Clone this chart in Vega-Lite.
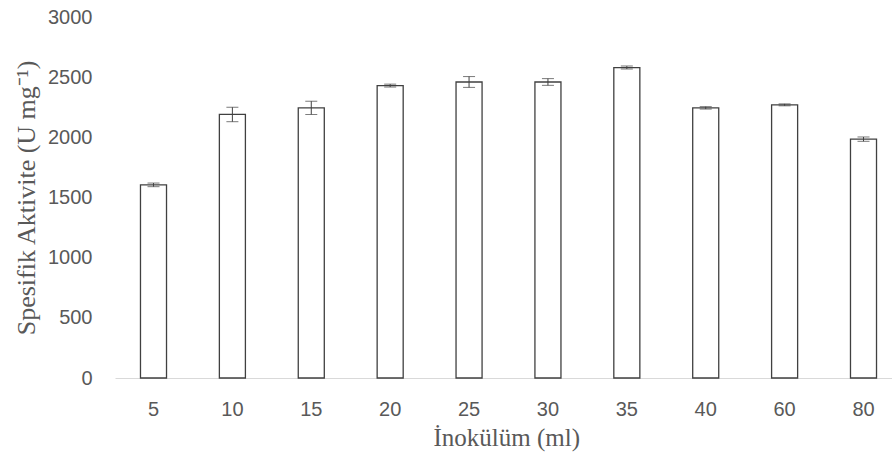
{
  "$schema": "https://vega.github.io/schema/vega-lite/v6.json",
  "width": 787,
  "height": 361,
  "autosize": "none",
  "padding": {"left": 115, "top": 17, "right": 0, "bottom": 89},
  "background": "white",
  "config": {"view": {"stroke": null}},
  "data": {"values": [
    {"ml": "5", "value": 1605, "lo": 1590, "hi": 1620},
    {"ml": "10", "value": 2190, "lo": 2130, "hi": 2250},
    {"ml": "15", "value": 2245, "lo": 2190, "hi": 2300},
    {"ml": "20", "value": 2430, "lo": 2418, "hi": 2442},
    {"ml": "25", "value": 2460, "lo": 2415, "hi": 2505},
    {"ml": "30", "value": 2460, "lo": 2432, "hi": 2488},
    {"ml": "35", "value": 2580, "lo": 2568, "hi": 2592},
    {"ml": "40", "value": 2245, "lo": 2235, "hi": 2255},
    {"ml": "60", "value": 2270, "lo": 2262, "hi": 2278},
    {"ml": "80", "value": 1985, "lo": 1967, "hi": 2003}
  ]},
  "encoding": {
    "x": {
      "field": "ml", "type": "ordinal", "sort": null,
      "scale": {"paddingInner": 0.67, "paddingOuter": 0.323},
      "axis": {
        "title": "İnokülüm (ml)", "titleFont": "Liberation Serif", "titleFontSize": 25,
        "titleFontWeight": "normal", "titleColor": "#595959", "titlePadding": 6,
        "titleAnchor": "start", "titleX": 318, "titleAlign": "left",
        "labelAngle": 0, "labelFont": "Liberation Sans", "labelFontSize": 20,
        "labelColor": "#595959", "labelPadding": 21, "ticks": false,
        "domainColor": "#d9d9d9", "domainWidth": 1
      }
    }
  },
  "layer": [
    {
      "mark": {"type": "bar", "fill": "white", "stroke": "#404040", "strokeWidth": 1.3},
      "encoding": {
        "y": {
          "field": "value", "type": "quantitative",
          "scale": {"domain": [0, 3000], "nice": false},
          "axis": {
            "title": "Spesifik Aktivite (U mg⁻¹)", "titleFont": "Liberation Serif", "titleFontSize": 26,
            "titleFontWeight": "normal", "titleColor": "#595959", "titlePadding": 8,
            "values": [0, 500, 1000, 1500, 2000, 2500, 3000], "format": "d",
            "labelFont": "Liberation Sans", "labelFontSize": 20, "labelColor": "#595959",
            "labelPadding": 23, "ticks": false, "domain": false, "grid": false
          }
        }
      }
    },
    {
      "mark": {"type": "rule", "color": "#404040", "strokeWidth": 1},
      "encoding": {"y": {"field": "lo", "type": "quantitative"}, "y2": {"field": "hi"}}
    },
    {
      "mark": {"type": "tick", "color": "#404040", "thickness": 1, "size": 12, "orient": "horizontal"},
      "encoding": {"y": {"field": "lo", "type": "quantitative"}}
    },
    {
      "mark": {"type": "tick", "color": "#404040", "thickness": 1, "size": 12, "orient": "horizontal"},
      "encoding": {"y": {"field": "hi", "type": "quantitative"}}
    }
  ]
}
